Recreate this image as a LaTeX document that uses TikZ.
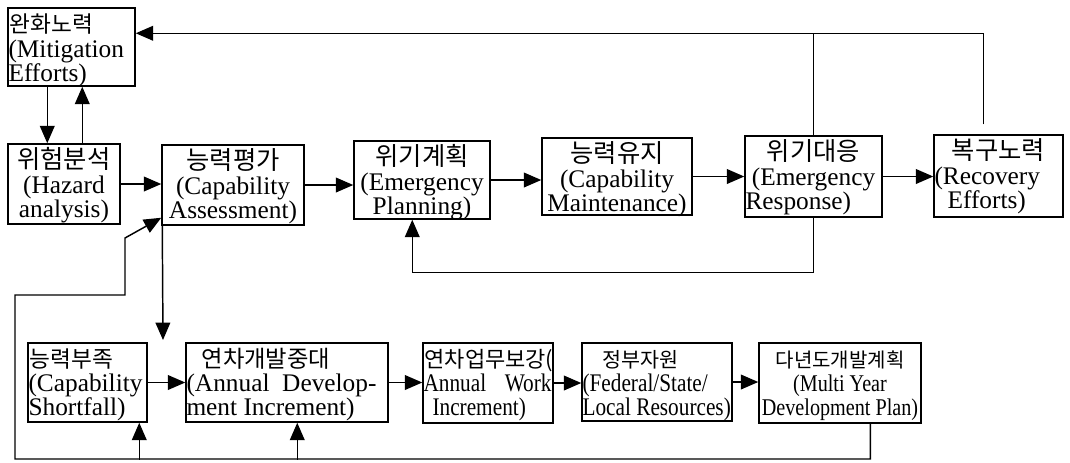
\documentclass[tikz,border=0pt]{standalone}
\usepackage{fontspec}
\setmainfont{Liberation Serif}
\newfontfamily\kr{Noto Sans CJK KR}
\newfontfamily\cond[FakeStretch=0.84]{Liberation Serif}
\usetikzlibrary{arrows.meta,calc,fit}
\newcommand\ko[2][19]{{\kr\fontsize{#1}{19}\selectfont #2}}
% one text line: options, name, reference point, offset, text
\newcommand\tl[5]{\node[txt,#1] (#2) at ($(#3)+(#4)$) {#5};}
\tikzset{
  box/.style={draw, line width=1.1pt, inner sep=0pt},
  txt/.style={inner sep=0pt, font=\fontsize{19}{19}\selectfont},
  ctxt/.style={txt, font=\cond\fontsize{19}{19}\selectfont},
  arr/.style={line width=1.1pt, -{Triangle[length=13pt,width=11pt]}},
  ln/.style={line width=1.1pt},
}
\begin{document}
\begin{tikzpicture}[x=0.75pt,y=-0.75pt]
\useasboundingbox (0,0) rectangle (1070,462);
% ---- boxes, top row
\node[box, fit={(8,8)(135,86)}] (mit) {};
\node[box, fit={(8,144)(120,224)}] (haz) {};
\node[box, fit={(162,145)(304,225)}] (cap) {};
\node[box, fit={(354,141)(490,219)}] (plan) {};
\node[box, fit={(542,138)(692,215)}] (maint) {};
\node[box, fit={(745,136)(882,217)}] (resp) {};
\node[box, fit={(934,135)(1063,217)}] (rec) {};
% ---- boxes, bottom row
\node[box, fit={(28,343)(147,422)}] (sf) {};
\node[box, fit={(186,343)(388,422)}] (ad) {};
\node[box, fit={(423,343)(553,423)}] (aw) {};
\node[box, fit={(582,343)(732,421)}] (fed) {};
\node[box, fit={(759,343)(921,423)}] (my) {};
% ---- texts, top row
\tl{anchor=base west}{mit1}{mit.north west}{2,25}{\ko[17]{완화노력}}
\tl{anchor=base west}{mit2}{mit.north west}{1,50}{(Mitigation}
\tl{anchor=base west}{mit3}{mit.north west}{1,74}{Efforts)}
\tl{anchor=base}{haz1}{haz.north}{0,25}{\ko{위험분석}}
\tl{anchor=base}{haz2}{haz.north}{0,50}{(Hazard}
\tl{anchor=base}{haz3}{haz.north}{0,74}{analysis)}
\tl{anchor=base}{cap1}{cap.north}{0,25}{\ko{능력평가}}
\tl{anchor=base}{cap2}{cap.north}{0,50}{(Capability}
\tl{anchor=base}{cap3}{cap.north}{0,74}{Assessment)}
\tl{anchor=base}{plan1}{plan.north}{0,25}{\ko{위기계획}}
\tl{anchor=base}{plan2}{plan.north}{0,50}{(Emergency}
\tl{anchor=base}{plan3}{plan.north}{0,74}{Planning)}
\tl{anchor=base}{maint1}{maint.north}{0,25}{\ko{능력유지}}
\tl{anchor=base}{maint2}{maint.north}{0,50}{(Capability}
\tl{anchor=base}{maint3}{maint.north}{0,74}{Maintenance)}
\tl{anchor=base}{resp1}{resp.north}{0,25}{\ko{위기대응}}
\tl{anchor=base}{resp2}{resp.north}{0,50}{(Emergency}
\tl{anchor=base west}{resp3}{resp.north west}{1,74}{Response)}
\tl{anchor=base}{rec1}{rec.north}{0,25}{\ko{복구노력}}
\tl{anchor=base west}{rec2}{rec.north west}{1,50}{(Recovery}
\tl{anchor=base west}{rec3}{rec.north west}{14,74}{Efforts)}
% ---- texts, bottom row
\tl{anchor=base west}{sf1}{sf.north west}{2,25}{\ko[17]{능력부족}}
\tl{anchor=base west}{sf2}{sf.north west}{1,49}{(Capability}
\tl{anchor=base west}{sf3}{sf.north west}{1,73}{Shortfall)}
\tl{anchor=base west}{ad1}{ad.north west}{16,25}{\ko[17.5]{연차개발중대}}
\tl{anchor=base west}{ad2}{ad.north west}{1,49}{(Annual~~Develop-}
\tl{anchor=base west}{ad3}{ad.north west}{1,73}{ment Increment)}
\tl{anchor=base west}{aw1}{aw.north west}{2,25}{\ko[16.5]{연차업무보강(}}
\tl{ctxt, anchor=base west}{aw2}{aw.north west}{1,49}{\makebox[96pt][l]{Annual\hfill Work}}
\tl{ctxt, anchor=base west}{aw3}{aw.north west}{10,73}{Increment)}
\tl{anchor=base west}{fed1}{fed.north west}{21,25}{\ko[15.5]{정부자원}}
\tl{ctxt, anchor=base west}{fed2}{fed.north west}{1,49}{(Federal/State/}
\tl{ctxt, anchor=base west}{fed3}{fed.north west}{1,73}{Local Resources)}
\tl{anchor=base}{my1}{my.north}{0,25}{\ko[15]{다년도개발계획}}
\tl{ctxt, anchor=base, font=\cond\fontsize{18}{18}\selectfont}{my2}{my.north}{0,49}{(Multi Year}
\tl{ctxt, anchor=base, font=\cond\fontsize{18}{18}\selectfont}{my3}{my.north}{0,73}{Development Plan)}
% ---- coordinates
\coordinate (topline) at ($(mit.north east)+(0,26)$);
\coordinate (capdown) at (163,340);
\coordinate (b0) at (15,459);
% ---- connectors
\draw[arr] ($(rec.north west)+(50,-10)$) |- (topline);
\draw[ln] (resp.north) -- (resp.north |- topline);
\draw[arr] ($(mit.south west)+(40,0)$) -- ($(haz.north west)+(40,0)$);
\draw[arr] ($(haz.north west)+(75,0)$) -- ($(mit.south west)+(75,0)$);
\draw[arr] (haz.east) -- (haz.east -| cap.west);
\draw[arr] (cap.east) -- (cap.east -| plan.west);
\draw[arr] (plan.east) -- (plan.east -| maint.west);
\draw[arr] (maint.east) -- (maint.east -| resp.west);
\draw[arr] (resp.east) -- (resp.east -| rec.west);
\draw[arr] (resp.south) -- ++(0,55) -| ($(plan.south west)+(59,0)$);
\draw[arr] ($(cap.south west)+(1,0)$) -- (capdown);
\draw[arr] (sf.east) -- (sf.east -| ad.west);
\draw[arr] (ad.east) -- (ad.east -| aw.west);
\draw[arr] (aw.east) -- (aw.east -| fed.west);
\draw[arr] (fed.east) -- (fed.east -| my.west);
\draw[arr] ($(my.south west)+(112,0)$) |- (b0) -- ++(0,-164) -- ++(110,0) -- ++(0,-57) -- ($(cap.south west)+(0,-8)$);
\draw[arr] ($(sf.south west)+(112,37)$) -- ($(sf.south west)+(112,0)$);
\draw[arr] ($(ad.south west)+(112,37)$) -- ($(ad.south west)+(112,0)$);
\end{tikzpicture}
\end{document}
